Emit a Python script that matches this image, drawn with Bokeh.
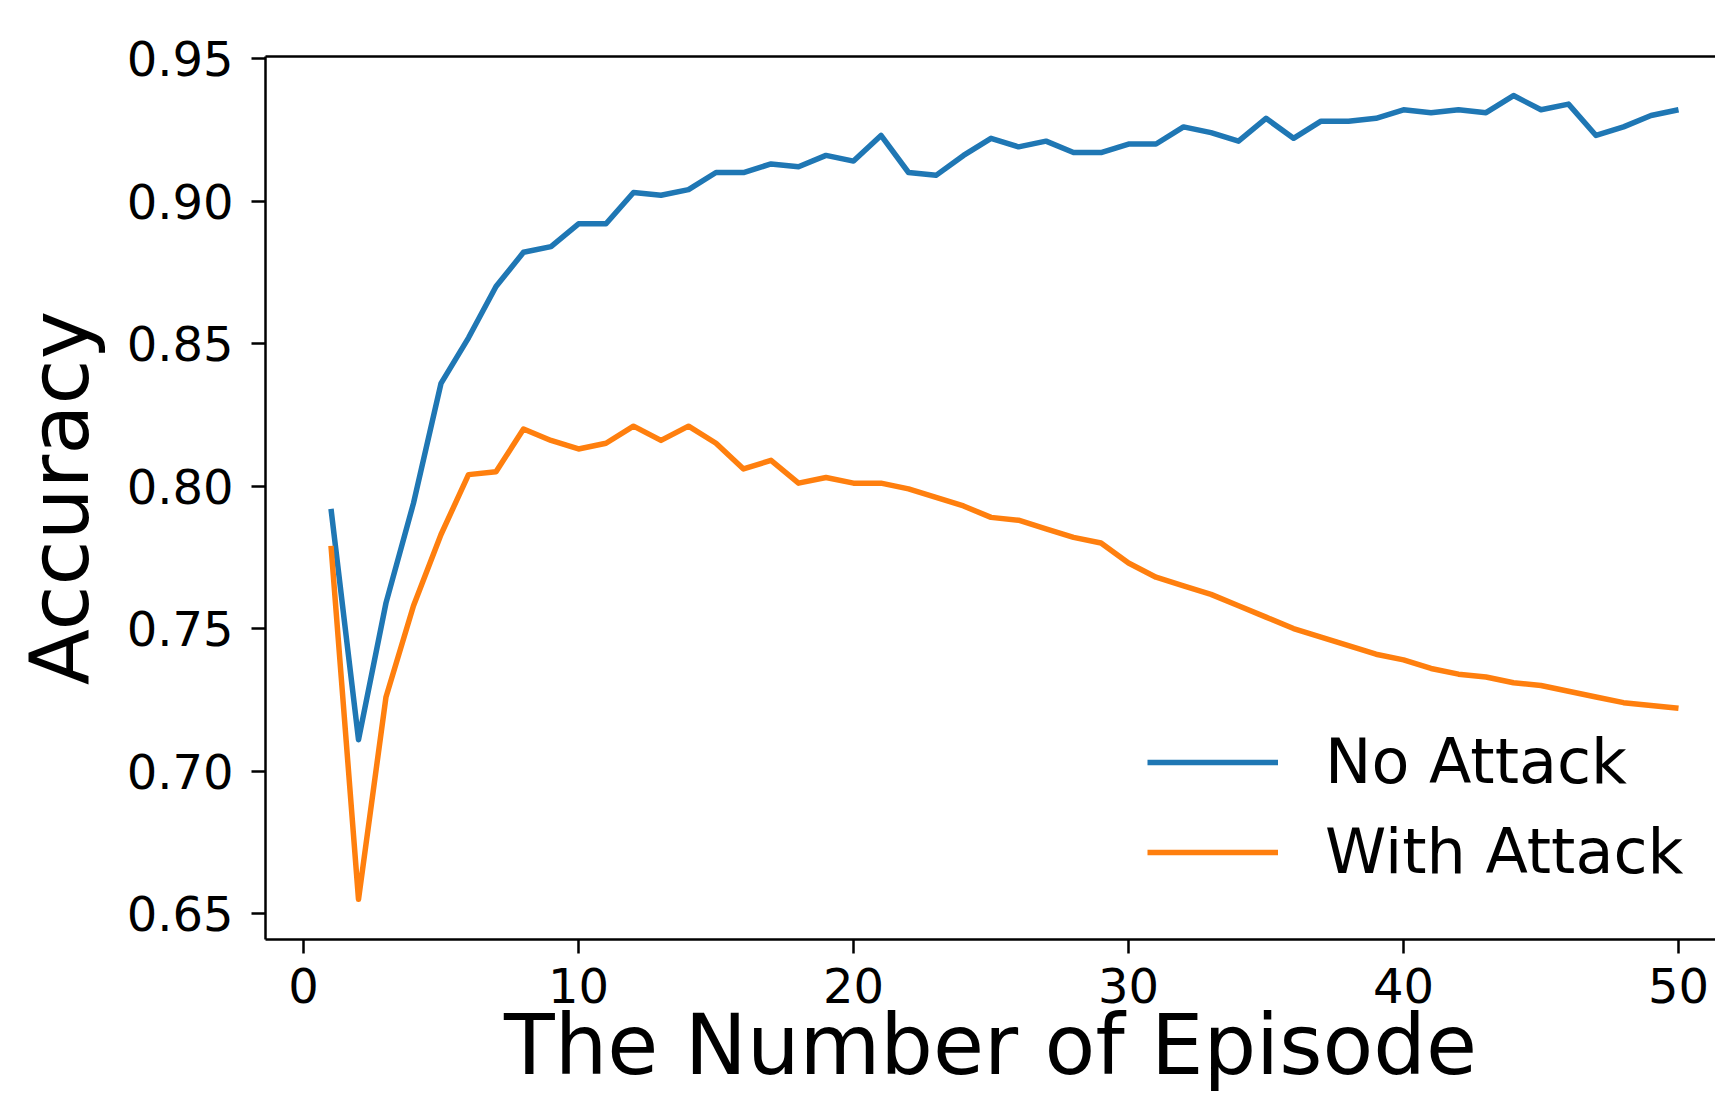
from bokeh.plotting import figure
from bokeh.models import (Range1d, FixedTicker, NumeralTickFormatter, LinearAxis,
                          Legend, LegendItem)
from bokeh.embed import file_html
from bokeh.resources import INLINE

# ---------------- data ----------------
episodes = list(range(1, 51))

no_attack = [0.792, 0.711, 0.759, 0.794, 0.836, 0.852, 0.870, 0.882, 0.884, 0.892,
             0.892, 0.903, 0.902, 0.904, 0.910, 0.910, 0.913, 0.912, 0.916, 0.914,
             0.923, 0.910, 0.909, 0.916, 0.922, 0.919, 0.921, 0.917, 0.917, 0.920,
             0.920, 0.926, 0.924, 0.921, 0.929, 0.922, 0.928, 0.928, 0.929, 0.932,
             0.931, 0.932, 0.931, 0.937, 0.932, 0.934, 0.923, 0.926, 0.930, 0.932]

with_attack = [0.779, 0.655, 0.726, 0.758, 0.783, 0.804, 0.805, 0.820, 0.816, 0.813,
               0.815, 0.821, 0.816, 0.821, 0.815, 0.806, 0.809, 0.801, 0.803, 0.801,
               0.801, 0.799, 0.796, 0.793, 0.789, 0.788, 0.785, 0.782, 0.780, 0.773,
               0.768, 0.765, 0.762, 0.758, 0.754, 0.750, 0.747, 0.744, 0.741, 0.739,
               0.736, 0.734, 0.733, 0.731, 0.730, 0.728, 0.726, 0.724, 0.723, 0.722]

series_labels = ["No Attack", "With Attack"]
series_colors = ["#1f77b4", "#ff7f0e"]
x_ticks = [0, 10, 20, 30, 40, 50]
y_ticks = [0.65, 0.70, 0.75, 0.80, 0.85, 0.90, 0.95]
x_label = "The Number of Episode"
y_label = "Accuracy"

FONT = "DejaVu Sans"

# ---------------- figure ----------------
p = figure(width=1715, height=1098, output_backend="svg", toolbar_location=None,
           x_range=Range1d(-1.382, 51.345), y_range=Range1d(0.6409, 0.9507),
           min_border_left=265, min_border_right=0, min_border_top=56,
           min_border_bottom=159)
p.outline_line_color = None
p.xgrid.visible = False
p.ygrid.visible = False
p.background_fill_color = "white"
p.border_fill_color = "white"

for ax in (p.xaxis[0], p.yaxis[0]):
    ax.axis_line_width = 2.5
    ax.axis_line_color = "black"
    ax.major_tick_line_width = 2.5
    ax.major_tick_line_color = "black"
    ax.major_tick_out = 14
    ax.major_tick_in = 0
    ax.minor_tick_line_color = None
    ax.major_label_text_font = FONT
    ax.major_label_text_font_size = "48px"
    ax.major_label_text_color = "black"
    ax.axis_label_text_font = FONT
    ax.axis_label_text_font_size = "82px"
    ax.axis_label_text_font_style = "normal"
    ax.axis_label_text_color = "black"

p.xaxis[0].ticker = FixedTicker(ticks=x_ticks)
p.xaxis[0].major_label_standoff = 14
p.xaxis[0].axis_label = x_label
p.xaxis[0].axis_label_text_font_size = "83px"
p.xaxis[0].axis_label_standoff = -9

p.yaxis[0].ticker = FixedTicker(ticks=y_ticks)
p.yaxis[0].formatter = NumeralTickFormatter(format="0.00")
p.yaxis[0].major_label_standoff = 18
p.yaxis[0].axis_label = y_label
p.yaxis[0].axis_label_standoff = 17

# top spine
top = LinearAxis(ticker=FixedTicker(ticks=[]), major_label_text_font_size="0px",
                 major_tick_line_color=None, minor_tick_line_color=None,
                 axis_line_width=2.5, axis_line_color="black")
p.add_layout(top, "above")

# ---------------- lines ----------------
r1 = p.line(episodes, no_attack, line_color=series_colors[0], line_width=5.5,
            line_join="round")
r2 = p.line(episodes, with_attack, line_color=series_colors[1], line_width=5.5,
            line_join="round")

legend = Legend(items=[LegendItem(label=series_labels[0], renderers=[r1]),
                       LegendItem(label=series_labels[1], renderers=[r2])],
                location=(882, 51), orientation="vertical",
                glyph_width=131, glyph_height=72, label_height=72,
                label_standoff=47, spacing=17, padding=0, margin=0,
                border_line_color=None, background_fill_alpha=0,
                label_text_font=FONT, label_text_font_size="62px",
                label_text_color="black")
p.add_layout(legend)

open("out.html", "w").write(file_html(p, INLINE))
